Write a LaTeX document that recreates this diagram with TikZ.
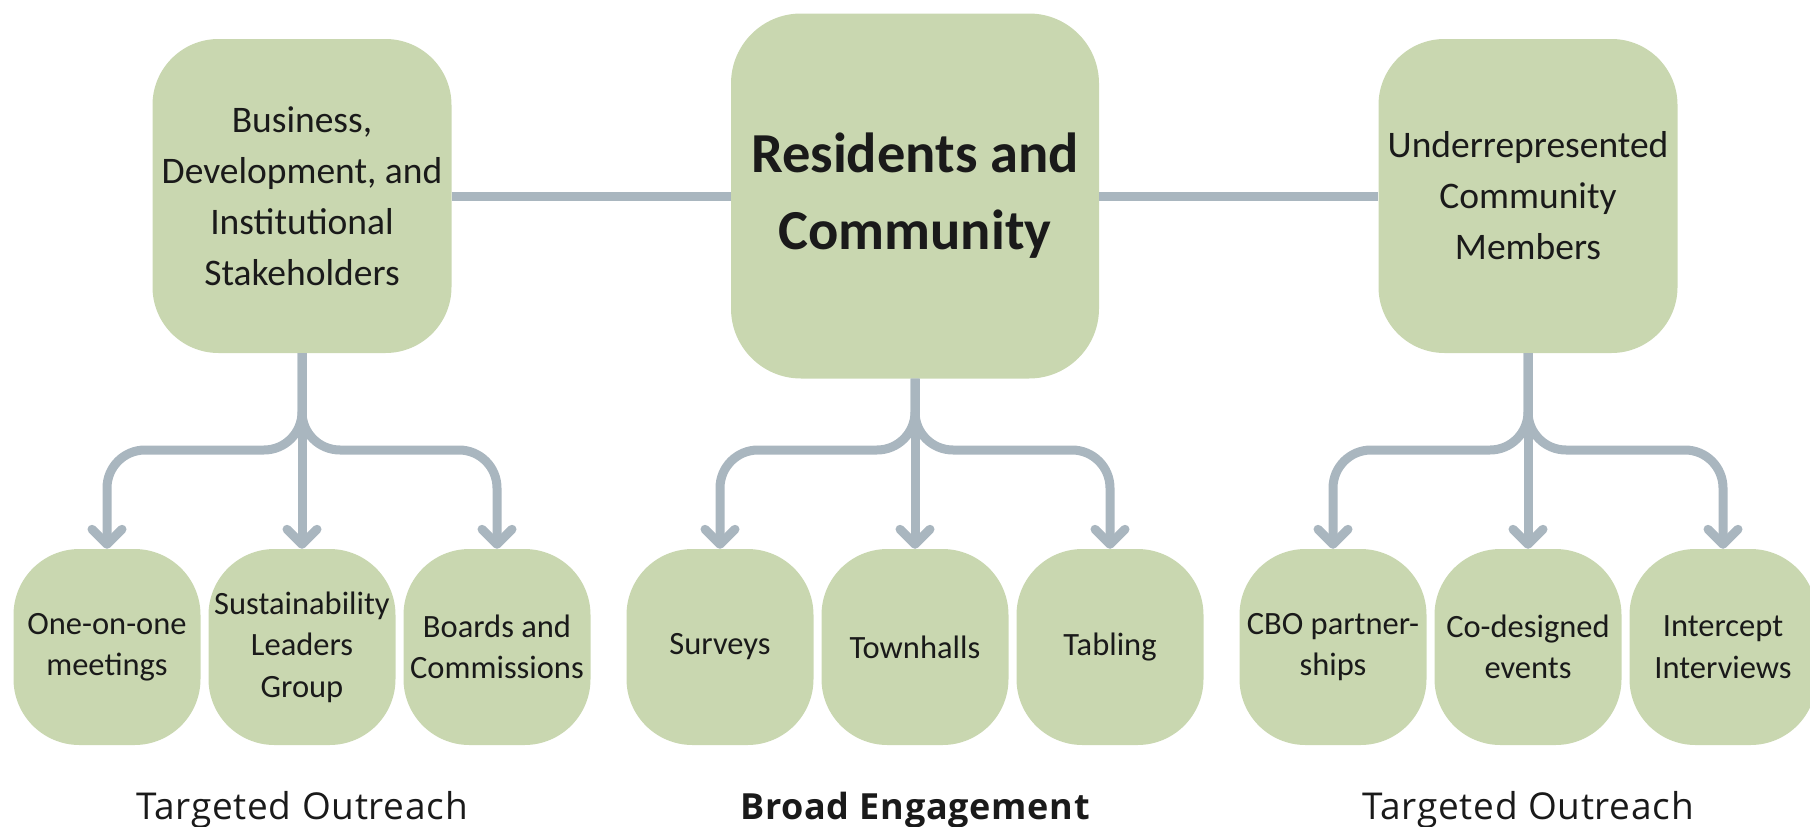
\documentclass[tikz,border=0pt]{standalone}
\usepackage{fontspec}
\setmainfont{Carlito}
\newfontfamily\labelfont{Open Sans}[LetterSpace=2]
\usetikzlibrary{arrows.meta}
\definecolor{boxgreen}{HTML}{C9D7B0}
\definecolor{linkgray}{HTML}{A9B6BF}
\definecolor{inktext}{HTML}{1A1A1A}
\begin{document}
\begin{tikzpicture}[x=1pt,y=-1pt,
  box/.style={fill=boxgreen, rounded corners=66pt, inner sep=0pt, align=center, text=inktext,
    font=\fontsize{32.5}{41.5}\selectfont, minimum width=187pt, minimum height=196pt},
  topbox/.style={box, rounded corners=66pt, font=\fontsize{37.5}{51}\selectfont,
    minimum width=299pt, minimum height=314pt},
  link/.style={draw=linkgray, line width=9pt},
  branch/.style={link, rounded corners=38pt,
    -{Straight Barb[length=15pt,width=30pt,line cap=round,line join=round]}},
  caplabel/.style={font=\labelfont\fontsize{37}{42}\selectfont, text=inktext, anchor=base}
]
\useasboundingbox (0,0) rectangle (1810,827);
% top boxes
\node[topbox] (L) at (302,196) {Business,\\Development, and\\Institutional\\Stakeholders};
\node[topbox, rounded corners=70pt, minimum width=368pt, minimum height=365pt,
  font=\bfseries\fontsize{56.5}{77}\selectfont] (C) at (915,196) {Residents and\\Community};
\node[topbox] (R) at (1528,196) {Underrepresented\\Community\\Members};
% bottom boxes
\node[box] (a1) at (107,647) {One-on-one\\meetings};
\node[box] (a2) at (302,647) {Sustainability\\Leaders\\Group};
\node[box] (a3) at (497,647) {Boards and\\Commissions};
\node[box] (b1) at (720,647) {Surveys};
\node[box] (b2) at (915,647) {Townhalls};
\node[box] (b3) at (1110,647) {Tabling};
\node[box] (c1) at (1333,647) {CBO partner-\\ships};
\node[box] (c2) at (1528,647) {Co-designed\\events};
\node[box] (c3) at (1723,647) {Intercept\\Interviews};
% horizontal links
\draw[link] (L.east) -- (C.west);
\draw[link] (C.east) -- (R.west);
% branches
\foreach \p/\l/\m/\r in {L/a1/a2/a3, C/b1/b2/b3, R/c1/c2/c3}{
  \draw[branch] (\p.south) -- (\p.south |- 0,450) -| (\l.north);
  \draw[branch] (\p.south) -- (\p.south |- 0,450) -| (\r.north);
  \draw[branch] (\p.south) -- (\m.north);
}
% captions
\node[caplabel] (t1) at (302,819) {Targeted Outreach};
\node[caplabel, font=\labelfont\bfseries\fontsize{36}{42}\selectfont] (t2) at (915,819) {Broad Engagement};
\node[caplabel] (t3) at (1528,819) {Targeted Outreach};
\end{tikzpicture}
\end{document}
